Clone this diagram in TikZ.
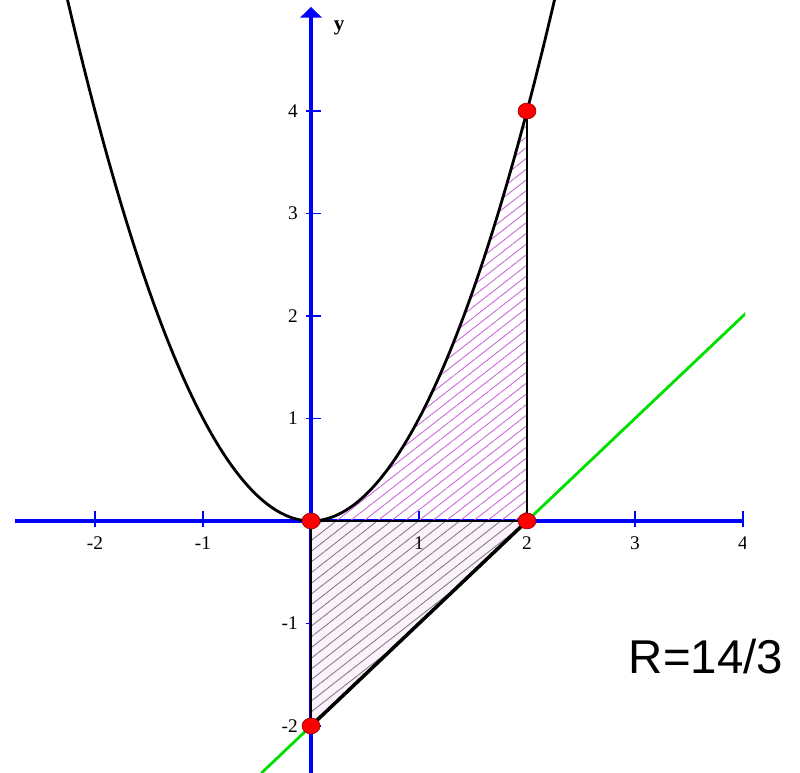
\documentclass[tikz,border=0pt]{standalone}
\usepackage{fontspec}
\setmainfont{Liberation Serif}
\newfontfamily\arialfont{Liberation Sans}
\usetikzlibrary{arrows.meta,patterns.meta}
\definecolor{axisblue}{HTML}{0000FF}
\definecolor{linegreen}{HTML}{00E000}
\definecolor{hatchviolet}{HTML}{CC66DD}
\definecolor{lowpink}{HTML}{FBF2FB}

\begin{document}
\begin{tikzpicture}[x=2.16cm, y=2.05cm,
      axis/.style={draw=axisblue, line width=1.8pt},
      tick/.style={draw=axisblue, line width=1pt},
      curve/.style={draw=black, line width=1.6pt},
      hatch/.style={pattern={Lines[angle=38,distance=4.8pt,line width=0.5pt]}},
      dot/.style={fill=red, draw=red!50!black, line width=0.3pt},
      lab/.style={inner sep=0pt, font=\fontsize{11}{13}\selectfont}
    ]
      \useasboundingbox (-2.88,-2.459) rectangle (4.528,5.083);
      \coordinate (O) at (0,0);
      \coordinate (A) at (2,0);
      \coordinate (B) at (2,4);
      \coordinate (C) at (0,-2);
      \coordinate (g1) at (-0.46,-2.46);
      \coordinate (g2) at (4.03,2.03);
      \begin{scope}
        \clip (-2.88,-2.459) rectangle (4.02,5.083);
        % axes and ticks
        \draw[axis] (-2.74,0) -- (4,0);
        \draw[axis, -{Triangle[width=12pt,length=6pt]}] (0,-2.46) -- (0,5.015);
        \foreach \x in {-2,-1,1,2,3,4}
          \draw[tick] (\x,-0.06) -- (\x,0.1);
        \foreach \y in {-2,-1,1,2,3,4}
          \draw[tick] (-0.046,\y) -- (0.093,\y);
        % regions
        \path[hatch, pattern color=hatchviolet] (O) -- plot[domain=0:2, samples=40] (\x,{\x*\x}) -- (A) -- cycle;
        \fill[lowpink] (O) -- (A) -- (C) -- cycle;
        \path[hatch, pattern color=gray] (O) -- (A) -- (C) -- cycle;
        % lines
        \draw[draw=linegreen, line width=1.6pt] (g1) -- (g2);
        \draw[black, line width=1pt] (C) -- (O) -- (A);
        \draw[black, line width=2pt] (C) -- (A);
        \draw[curve] (A) -- (B);
        \draw[curve] plot[domain=-2.26:2.26, samples=90, smooth] (\x,{\x*\x});
        % labels
        \foreach \x in {-2,-1,1,2,3,4}
          \node[lab] (xl\x) at (\x,-0.215) {\x};
        \foreach \y in {-2,-1,1,2,3,4}
          \node[lab, anchor=east] (yl\y) at (-0.12,\y) {\y};
        \node[font=\bfseries\fontsize{12}{14}\selectfont] (ylab) at (0.26,4.81) {y};
        % points
        \foreach \p in {O,A,B,C}
          \filldraw[dot] (\p) ellipse[x radius=0.18cm, y radius=0.16cm];
      \end{scope}
      \node[font=\arialfont\fontsize{27}{32}\selectfont] (res) at (3.657,-1.327) {R=14/3};
    \end{tikzpicture}
\end{document}
